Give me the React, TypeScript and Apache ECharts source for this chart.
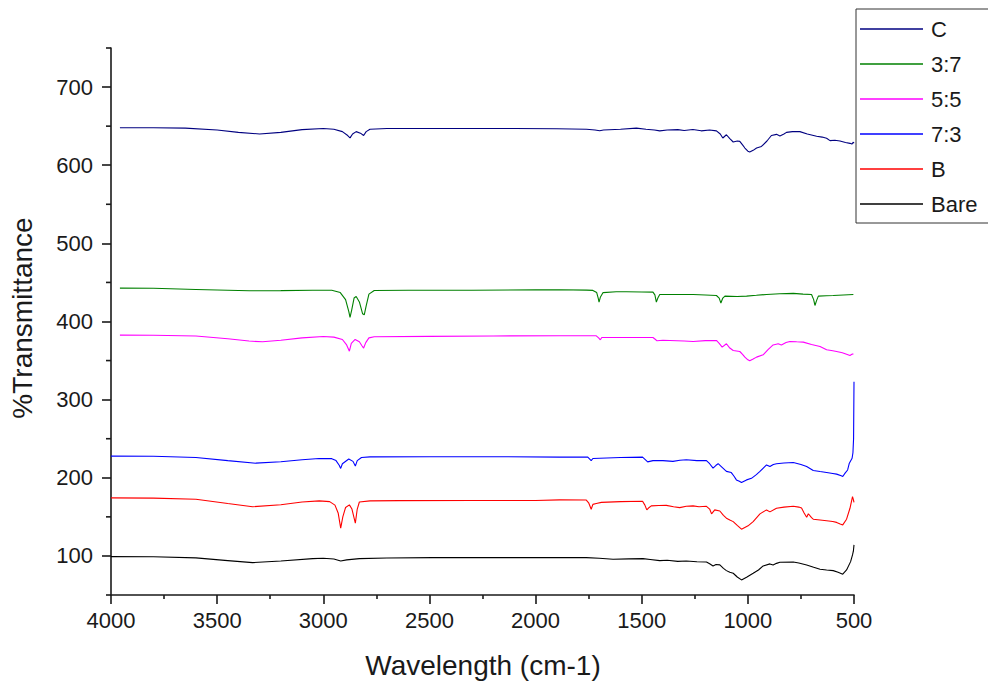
import React, { useEffect, useRef } from "react";
import * as echarts from "echarts";

// FTIR transmittance spectra: [wavenumber (cm-1), %T] pairs
const seriesNames = ["C", "3:7", "5:5", "7:3", "B", "Bare"];
const seriesColors = ["#000080", "#008000", "#ff00ff", "#0000ff", "#ff0000", "#000000"];

const specC: number[][] = [
  [3958, 648], [3800, 648], [3650, 647.5], [3500, 645], [3400, 642], [3300, 640], [3200, 642],
  [3100, 645.5], [3000, 647], [2950, 646], [2910, 643], [2885, 638], [2874, 635], [2862, 640],
  [2845, 643], [2825, 641], [2810, 638], [2798, 643], [2780, 646], [2700, 647], [2500, 647],
  [2300, 647], [2100, 647], [1900, 646.7], [1760, 646], [1720, 645], [1698, 644], [1680, 645],
  [1600, 646], [1525, 647.5], [1480, 646], [1440, 645], [1415, 644], [1380, 645], [1330, 645.5],
  [1300, 644.5], [1259, 645.7], [1220, 644], [1180, 645], [1148, 644], [1130, 640], [1118, 634.8],
  [1101, 639], [1085, 634], [1069, 629.7], [1050, 631], [1038, 630.5], [1025, 626], [1014, 622],
  [1000, 618], [991, 617], [975, 619], [959, 622], [936, 624], [910, 631], [889, 638], [865, 639.5],
  [849, 637.5], [830, 640], [818, 642], [790, 643], [755, 643], [720, 640], [676, 637], [650, 636],
  [629, 634.5], [613, 631.5], [590, 632], [566, 631], [540, 629], [519, 628], [510, 627],
  [503, 629.5], [500, 628],
];

const spec37: number[][] = [
  [3958, 442.7], [3800, 442.5], [3600, 441], [3450, 440], [3349, 439.3], [3200, 439.5], [3050, 440],
  [2960, 440], [2920, 437], [2895, 428], [2880, 413], [2874, 405.4], [2866, 415], [2855, 430],
  [2845, 432], [2830, 425], [2815, 410], [2807, 408.6], [2798, 420], [2785, 435], [2760, 439.7],
  [2600, 440], [2300, 440], [2000, 440.5], [1887, 440.6], [1760, 440.2], [1730, 439.8], [1712, 437],
  [1705, 430], [1701, 424.8], [1695, 431], [1682, 437], [1620, 438], [1572, 438], [1500, 437.8],
  [1447, 437.6], [1438, 434], [1431, 424.8], [1424, 430], [1415, 434.6], [1350, 434.6], [1258, 434.6],
  [1200, 434], [1148, 433.3], [1135, 430], [1127, 423.6], [1118, 430], [1108, 432.5], [1050, 432],
  [1006, 432.5], [960, 433.5], [912, 434.6], [850, 435.5], [786, 436], [740, 435], [700, 434.6],
  [690, 428], [684, 420.5], [676, 427], [668, 432.5], [630, 433], [598, 433.3], [550, 434], [503, 434.6],
];

const spec55: number[][] = [
  [3958, 382.6], [3800, 382.5], [3600, 381.5], [3450, 378], [3350, 375], [3286, 374], [3200, 376],
  [3100, 379], [3000, 380.8], [2950, 380], [2910, 377], [2890, 370], [2877, 362], [2868, 372],
  [2850, 377], [2830, 374], [2818, 369], [2810, 366], [2800, 373], [2785, 379], [2760, 380.5],
  [2500, 381], [2200, 381.5], [1887, 381.7], [1714, 381.7], [1703, 379], [1695, 376.6], [1688, 379.5],
  [1600, 379.5], [1447, 379.5], [1435, 377], [1428, 375.3], [1400, 376], [1368, 375.7], [1300, 375],
  [1258, 374.5], [1200, 375.5], [1148, 375.7], [1135, 372], [1121, 367.2], [1101, 371.5], [1085, 366],
  [1069, 362.9], [1038, 361.6], [1025, 358], [1014, 354.4], [1000, 351], [991, 349.7], [975, 352],
  [959, 354.4], [928, 357.4], [905, 364], [881, 370], [857, 371.5], [842, 370], [820, 373],
  [802, 374.5], [770, 374], [739, 373.6], [700, 370.5], [660, 368], [629, 363.8], [600, 362.5],
  [582, 361.6], [555, 360], [535, 358.2], [519, 356.5], [510, 358], [503, 358.6],
];

const spec73: number[][] = [
  [4000, 227.7], [3800, 227.5], [3600, 226], [3450, 222], [3318, 218.7], [3200, 220.5], [3100, 223],
  [3020, 224.6], [2960, 224.5], [2940, 222], [2925, 216], [2918, 212], [2910, 218], [2880, 224],
  [2860, 221], [2849, 215], [2840, 222], [2820, 226], [2780, 226.8], [2500, 227], [2200, 227],
  [1887, 226.4], [1754, 226.4], [1745, 224], [1738, 222], [1730, 224.7], [1600, 226], [1496, 226.4],
  [1482, 223], [1472, 220.4], [1447, 222], [1400, 222], [1353, 221], [1320, 222.5], [1290, 223],
  [1240, 222], [1195, 222], [1180, 218], [1164, 212.4], [1150, 216], [1140, 218], [1120, 213],
  [1101, 208.2], [1078, 206.7], [1065, 202], [1054, 197.3], [1040, 195.5], [1030, 193.9],
  [1006, 197.3], [983, 199.3], [960, 204], [943, 208.2], [925, 213], [912, 216.5], [896, 214.4],
  [880, 217], [865, 218], [830, 219], [786, 219.6], [750, 217], [723, 214.4], [692, 209.4],
  [660, 208], [629, 206.8], [600, 205.5], [582, 204.7], [560, 202.5], [553, 201.6], [542, 205.9],
  [530, 210], [522, 218.7], [509, 225], [505, 232], [502, 250], [500, 323],
];

const specB: number[][] = [
  [4000, 174.3], [3800, 174], [3600, 172.5], [3450, 167], [3333, 163], [3200, 165.5], [3100, 169],
  [3019, 170.4], [2970, 169.5], [2945, 165], [2930, 155], [2918, 135.5], [2908, 150], [2895, 162],
  [2877, 165.3], [2865, 160], [2849, 141.9], [2840, 160], [2830, 169], [2780, 170.5], [2642, 170.8],
  [2300, 171], [2000, 171], [1887, 171.7], [1761, 171.5], [1750, 168], [1738, 159.8], [1730, 166],
  [1714, 167], [1690, 168.5], [1600, 169.5], [1496, 170], [1485, 165], [1476, 158.9], [1465, 162],
  [1455, 164], [1420, 164.5], [1384, 164.7], [1350, 163], [1321, 161.8], [1290, 163.5], [1258, 164],
  [1230, 163], [1195, 163.5], [1180, 160], [1171, 153.8], [1156, 158.9], [1132, 157.5], [1115, 152],
  [1101, 148.3], [1085, 146], [1069, 143.9], [1050, 139], [1030, 134.2], [1010, 137], [999, 138.5],
  [975, 143.9], [943, 153.8], [912, 158.9], [896, 156.4], [865, 161.1], [830, 162.5], [786, 163.5],
  [760, 162.5], [747, 161.2], [735, 155], [723, 149.6], [715, 154], [700, 149], [692, 147],
  [660, 146], [629, 145], [600, 144], [582, 142.9], [565, 141], [553, 139.7], [535, 147],
  [519, 161], [507, 175.9], [503, 172], [500, 168.5],
];

const specBare: number[][] = [
  [4000, 99.1], [3800, 99], [3600, 97.5], [3450, 94], [3333, 91.4], [3200, 93.5], [3050, 96.5],
  [3000, 97], [2950, 96], [2918, 93.6], [2890, 95], [2830, 96.6], [2700, 97.3], [2486, 97.8],
  [2200, 97.8], [1900, 98], [1761, 97.8], [1700, 97], [1635, 95.8], [1560, 96.2], [1494, 96.6],
  [1460, 95.5], [1415, 94], [1380, 94.5], [1330, 93], [1290, 93.5], [1240, 92.5], [1195, 92.3],
  [1180, 90], [1164, 87.2], [1150, 89], [1132, 88.5], [1115, 84], [1101, 81.2], [1085, 79],
  [1069, 77.8], [1050, 73], [1030, 69.3], [1006, 72.7], [975, 77.8], [950, 82], [928, 87.2],
  [896, 89.8], [881, 88.5], [865, 90.5], [849, 91.9], [786, 92.3], [760, 91], [723, 88.5],
  [690, 85.5], [660, 83], [629, 82], [598, 81.2], [575, 79], [553, 76.6], [535, 82.1], [516, 92.7],
  [507, 101.3], [503, 106], [500, 114.1],
];

const spectra = [specC, spec37, spec55, spec73, specB, specBare];

// y-axis ticks: labelled hundreds plus short ticks in between
const yMajorTicks = [100, 200, 300, 400, 500, 600, 700];
const yMinorTicks = [50, 150, 250, 350, 450, 550, 650, 750];

const X_START = 4000;
const FONT = "Arial, 'Liberation Sans', Helvetica, sans-serif";
const INK = "#1a1a1a";

export default function App() {
  const ref = useRef<HTMLDivElement>(null);

  useEffect(() => {
    if (!ref.current) return;
    const chart = echarts.init(ref.current, undefined, { renderer: "svg" });

    const tickStyle = { color: INK, width: 1.6 };

    const spectrumSeries = seriesNames.map((name, i) => ({
      name,
      type: "line",
      data: spectra[i],
      symbol: "none",
      smooth: false,
      lineStyle: { color: seriesColors[i], width: 1.1 },
      itemStyle: { color: seriesColors[i] },
    }));

    // short y ticks drawn against the y axis through the axis scale
    const minorTickSeries = {
      name: "yMinorTicks",
      type: "custom",
      clip: false,
      silent: true,
      data: yMinorTicks.map((v) => [X_START, v]),
      renderItem: (_params: any, api: any) => {
        const p = api.coord([api.value(0), api.value(1)]);
        return {
          type: "line",
          shape: { x1: p[0] - 5, y1: p[1], x2: p[0], y2: p[1] },
          style: { stroke: INK, lineWidth: 1.6 },
        };
      },
    };

    chart.setOption({
      animation: false,
      backgroundColor: "#ffffff",
      grid: { left: 111, right: 134, top: 48, bottom: 88, containLabel: false },
      xAxis: {
        type: "value",
        inverse: true,
        min: 500,
        max: X_START,
        interval: 500,
        axisLine: { show: true, lineStyle: tickStyle },
        axisTick: { show: true, inside: false, length: 9, lineStyle: tickStyle },
        minorTick: { show: true, splitNumber: 2, length: 4, lineStyle: tickStyle },
        axisLabel: {
          fontSize: 22,
          fontFamily: FONT,
          color: INK,
          margin: 14,
          formatter: (v: number) => String(v),
        },
        splitLine: { show: false },
        minorSplitLine: { show: false },
      },
      yAxis: {
        type: "value",
        min: 50,
        max: 750,
        position: "left",
        axisLine: { show: true, lineStyle: tickStyle },
        axisTick: { show: true, length: 9, customValues: yMajorTicks, lineStyle: tickStyle },
        axisLabel: {
          fontSize: 22,
          fontFamily: FONT,
          color: INK,
          margin: 18,
          customValues: yMajorTicks,
          formatter: (v: number) => String(v),
        },
        splitLine: { show: false },
      },
      legend: {
        orient: "vertical",
        left: 856,
        top: 9,
        data: seriesNames,
        icon: "rect",
        itemWidth: 63,
        itemHeight: 1.4,
        itemGap: 13,
        padding: [9, 60, 8, 4],
        borderColor: "#333333",
        borderWidth: 1,
        backgroundColor: "#ffffff",
        textStyle: { fontSize: 22, fontFamily: FONT, color: INK, padding: [0, 0, 0, 3] },
      },
      graphic: [
        {
          type: "text",
          x: 483,
          y: 665,
          style: {
            text: "Wavelength (cm-1)",
            font: `28px ${FONT}`,
            fill: INK,
            textAlign: "center",
            textVerticalAlign: "middle",
          },
        },
        {
          type: "text",
          x: 22,
          y: 318,
          rotation: Math.PI / 2,
          style: {
            text: "%Transmittance",
            font: `28px ${FONT}`,
            fill: INK,
            textAlign: "center",
            textVerticalAlign: "middle",
          },
        },
      ],
      series: [...spectrumSeries, minorTickSeries],
    });

    return () => chart.dispose();
  }, []);

  return (
    <div
      ref={ref}
      style={{ position: "fixed", left: 0, top: 0, width: 988, height: 683 }}
    />
  );
}
